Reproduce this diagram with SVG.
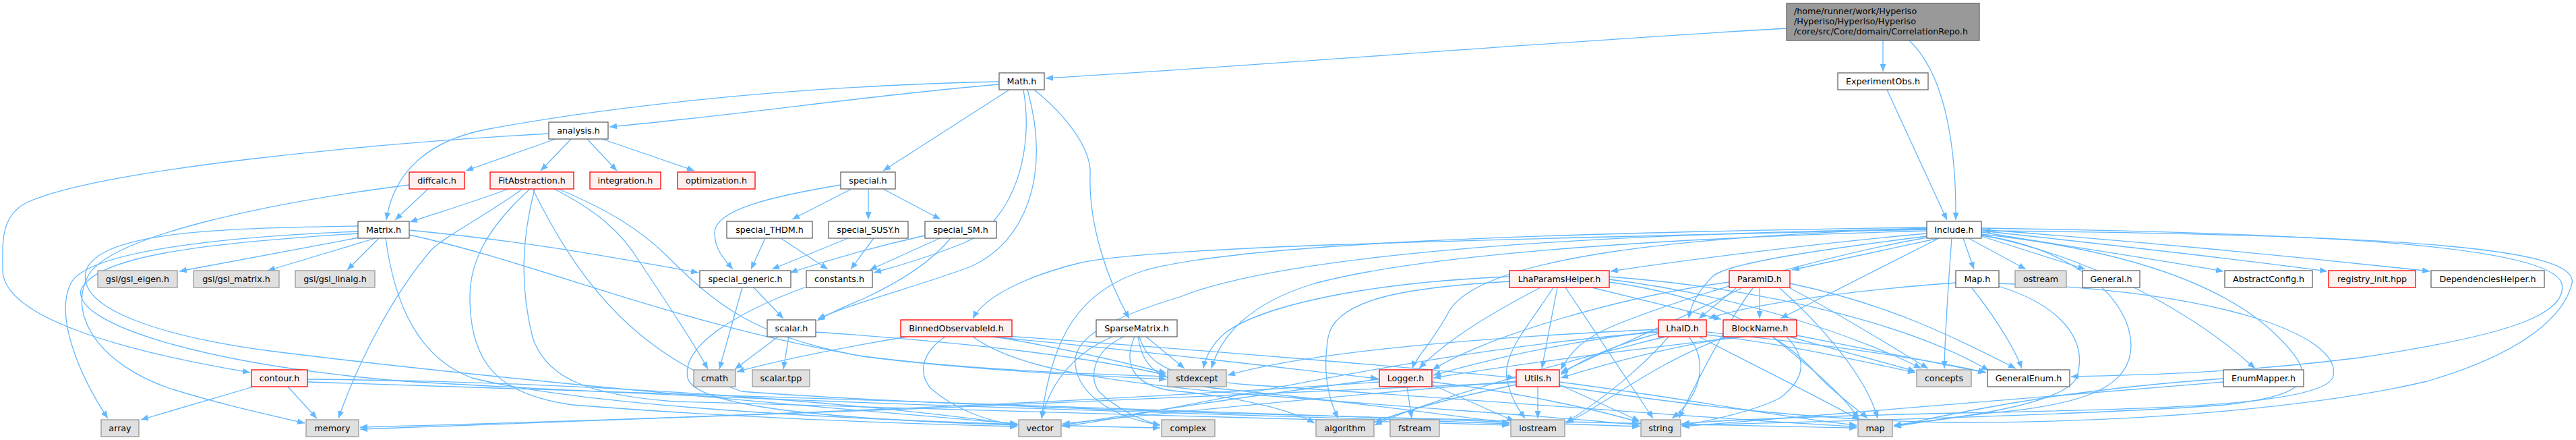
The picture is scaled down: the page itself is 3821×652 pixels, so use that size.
<svg xmlns="http://www.w3.org/2000/svg" width="3821" height="652" viewBox="0 0 3821 652">
<style>
.n{fill:#ffffff;stroke:#666666;stroke-width:1.3}
.r{fill:#fff0f0;stroke:#ff0000;stroke-width:1.3}
.e{fill:#e0e0e0;stroke:#999999;stroke-width:1.3}
.top{fill:#999999;stroke:#666666;stroke-width:1.3}
text{font-family:"DejaVu Sans","Liberation Sans",sans-serif;font-size:12.7px;fill:#000000}
.m{text-anchor:middle}
#edges path{fill:none;stroke:#63b8ff;stroke-width:1.3;marker-end:url(#ah)}
</style>
<defs>
<marker id="ah" viewBox="0 0 11 9" refX="11" refY="4.5" markerWidth="11" markerHeight="9" markerUnits="userSpaceOnUse" orient="auto"><path d="M0,0L11,4.5L0,9z" fill="#63b8ff"/></marker>
</defs>
<rect x="0" y="0" width="3821" height="652" fill="#ffffff"/>
<g id="edges">
<path d="M2650,42 C2300,62 1900,95 1551,116"/>
<path d="M2793,60 L2793,106"/>
<path d="M2832,60 C2880,105 2902,200 2901,326"/>
<path d="M2799,133 L2888,326"/>
<path d="M1482,125 C1300,140 1100,170 904,188"/>
<path d="M1482,121 C1150,128 880,162 720,192 C640,208 585,250 573,326"/>
<path d="M1497,133 L1310,253"/>
<path d="M1518,133 C1535,230 1500,330 1430,360 C1380,380 1330,395 1296,404"/>
<path d="M1524,133 C1560,260 1520,360 1440,395 C1360,425 1260,450 1213,473"/>
<path d="M1534,133 C1580,170 1620,220 1617,260 C1615,330 1640,410 1675,472"/>
<path d="M814,198 C560,212 150,250 40,300 C0,320 4,360 4,400 C4,470 180,520 371,552"/>
<path d="M824,206 L691,253"/>
<path d="M847,206 L802,253"/>
<path d="M871,206 L915,253"/>
<path d="M893,206 L1030,253"/>
<path d="M635,280 L586,326"/>
<path d="M607,274 C400,300 160,350 130,410 C100,470 150,540 250,575 C330,600 400,615 452,627"/>
<path d="M754,280 C700,300 650,315 608,329"/>
<path d="M775,280 C720,320 660,350 640,370 C580,440 530,540 502,620"/>
<path d="M786,280 C720,340 697,390 697,440 C697,540 740,585 850,600 C1100,620 1350,628 1509,632"/>
<path d="M793,280 C775,350 770,420 790,500 C810,560 870,585 1000,595 C1500,610 2000,620 2239,630"/>
<path d="M822,280 C880,310 920,340 950,390 C990,450 1030,510 1050,547"/>
<path d="M828,280 C900,310 950,340 990,380 C1060,450 1120,500 1280,528 C1450,550 1650,558 1730,562"/>
<path d="M790,280 C850,400 930,520 1100,580 C1500,610 2300,625 2754,634"/>
<path d="M533,352 L266,402"/>
<path d="M557,353 L397,401"/>
<path d="M562,353 L515,400"/>
<path d="M531,343 C350,350 130,370 105,420 C80,470 120,560 160,620"/>
<path d="M531,335 C350,338 150,340 128,400 C110,460 250,500 400,520 C800,570 1300,610 1509,628"/>
<path d="M531,346 C300,360 140,380 120,430 C110,480 300,540 600,565 C1200,600 1900,615 2239,628"/>
<path d="M607,341 C800,360 900,380 1036,404"/>
<path d="M607,348 C800,390 1000,480 1280,528 C1450,550 1650,555 1730,558"/>
<path d="M572,353 C585,450 620,530 700,560 C900,610 1400,628 1721,634"/>
<path d="M376,573 L209,622"/>
<path d="M427,573 L470,620"/>
<path d="M456,562 C900,565 1300,600 1509,629"/>
<path d="M456,566 C1000,580 2000,620 2432,632"/>
<path d="M1263,280 L1175,325"/>
<path d="M1288,280 L1288,325"/>
<path d="M1310,280 L1395,325"/>
<path d="M1247,274 C1150,290 1060,310 1060,345 C1060,370 1075,385 1087,399"/>
<path d="M1135,353 L1114,399"/>
<path d="M1158,353 L1228,399"/>
<path d="M1258,353 L1145,399"/>
<path d="M1296,353 L1262,399"/>
<path d="M1372,349 C1300,365 1230,385 1172,404"/>
<path d="M1394,353 L1290,400"/>
<path d="M1410,353 C1380,390 1330,420 1280,443 C1250,455 1230,465 1212,475"/>
<path d="M1101,426 L1067,547"/>
<path d="M1118,426 L1162,472"/>
<path d="M1196,425 C1100,460 1010,510 1020,560 C1030,600 1200,620 1509,630"/>
<path d="M1154,499 L1090,547"/>
<path d="M1170,499 L1162,547"/>
<path d="M1210,492 C1400,505 1600,525 1730,556"/>
<path d="M1345,499 C1250,515 1150,535 1093,551"/>
<path d="M1476,499 C1600,520 1680,540 1730,553"/>
<path d="M1402,499 C1370,520 1360,550 1380,575 C1420,610 1470,625 1509,630"/>
<path d="M1443,499 C1500,540 1600,560 1800,580 C2100,605 2350,620 2432,630"/>
<path d="M1470,499 C1700,520 1900,545 2044,561"/>
<path d="M1480,497 C1800,520 2100,545 2247,560"/>
<path d="M1700,499 L1757,546"/>
<path d="M1650,499 C1600,520 1560,560 1545,620"/>
<path d="M1667,499 C1620,520 1615,560 1630,580 C1660,610 1700,625 1721,630"/>
<path d="M1683,499 C1665,540 1680,575 1750,580 C1850,590 1920,610 1950,627"/>
<path d="M1688,499 C1695,540 1710,565 1800,575 C2000,595 2150,615 2239,627"/>
<path d="M1690,499 C1700,530 1720,560 1850,570 C2300,600 2600,625 2754,632"/>
<path d="M2285,426 C2220,460 2150,500 2105,546"/>
<path d="M2304,426 C2270,480 2230,520 2235,560 C2240,590 2255,610 2262,620"/>
<path d="M2310,426 L2287,546"/>
<path d="M2322,426 L2452,620"/>
<path d="M2361,426 L2553,473"/>
<path d="M2239,417 C2100,425 1980,440 1970,500 C1960,560 1975,600 1985,620"/>
<path d="M2239,410 C2000,420 1850,460 1810,500 C1795,515 1788,530 1785,546"/>
<path d="M2387,418 C2550,440 2650,500 2700,560 C2730,590 2760,610 2770,620"/>
<path d="M2387,414 C2600,440 2780,510 2850,546"/>
<path d="M2387,410 C2650,430 2850,490 2950,549"/>
<path d="M2575,427 L2520,472"/>
<path d="M2610,427 L2610,472"/>
<path d="M2565,418 C2400,440 2200,500 2125,548"/>
<path d="M2583,427 C2500,470 2380,520 2315,552"/>
<path d="M2655,427 C2720,460 2800,510 2860,546"/>
<path d="M2655,420 C2800,450 2900,500 2990,546"/>
<path d="M2640,427 C2700,480 2770,560 2785,620"/>
<path d="M2600,427 C2560,480 2520,560 2490,620"/>
<path d="M2460,490 C2300,510 2200,535 2126,556"/>
<path d="M2460,494 C2400,510 2350,530 2315,555"/>
<path d="M2475,499 C2440,540 2380,590 2323,626"/>
<path d="M2505,499 C2530,530 2530,580 2480,620"/>
<path d="M2531,496 C2650,510 2760,535 2841,552"/>
<path d="M2531,492 C2700,510 2850,530 2946,552"/>
<path d="M2520,499 C2600,540 2700,590 2758,622"/>
<path d="M2460,488 C2200,500 1950,520 1821,556"/>
<path d="M2460,492 C2100,520 1800,600 1576,632"/>
<path d="M2470,499 C2300,540 2100,600 2039,630"/>
<path d="M2654,499 L2841,550"/>
<path d="M2660,496 L2945,552"/>
<path d="M2629,499 C2680,540 2730,580 2757,620"/>
<path d="M2588,499 C2400,520 2250,540 2126,560"/>
<path d="M2570,499 C2450,520 2380,540 2315,560"/>
<path d="M2650,499 C2680,530 2680,560 2640,590 C2600,610 2530,625 2495,630"/>
<path d="M2560,499 C2450,540 2380,600 2323,627"/>
<path d="M2087,573 L2094,620"/>
<path d="M2124,570 L2246,624"/>
<path d="M2124,566 C2250,580 2380,610 2432,626"/>
<path d="M2046,562 C1900,580 1700,610 1576,630"/>
<path d="M2046,566 C1700,590 1200,615 534,633"/>
<path d="M2281,573 L2281,620"/>
<path d="M2313,570 L2432,624"/>
<path d="M2249,570 C2150,590 2080,610 2039,626"/>
<path d="M2249,565 C2000,585 1750,610 1576,628"/>
<path d="M2313,566 C2500,590 2650,620 2754,630"/>
<path d="M2249,567 C1800,590 1000,620 534,636"/>
<path d="M2901,419 C2750,430 2600,450 2534,472"/>
<path d="M2925,427 C2960,470 2990,520 2999,546"/>
<path d="M2964,424 C3050,450 3100,500 3080,560 C3060,600 2900,620 2809,630"/>
<path d="M2964,420 C3300,430 3480,500 3460,560 C3440,600 3200,607 2900,612 C2700,617 2550,622 2495,628"/>
<path d="M2858,346 C2700,360 2500,385 2389,402"/>
<path d="M2876,353 L2658,400"/>
<path d="M2858,350 C2700,370 2560,390 2540,410 C2520,430 2508,450 2505,472"/>
<path d="M2876,353 L2641,472"/>
<path d="M2912,353 L2928,399"/>
<path d="M2920,353 L3005,399"/>
<path d="M2939,350 L3093,399"/>
<path d="M2939,344 C3100,370 3200,385 3298,402"/>
<path d="M2939,342 C3150,365 3350,388 3452,402"/>
<path d="M2939,340 C3200,360 3450,385 3604,402"/>
<path d="M2939,348 C3100,380 3250,460 3345,546"/>
<path d="M2895,353 C2890,420 2885,500 2884,546"/>
<path d="M2939,338 C3400,345 3780,360 3800,420 C3810,470 3700,500 3500,530 C3300,555 3150,556 3072,558"/>
<path d="M2313,572 C2500,600 2700,624 2900,626 C3200,626 3450,600 3600,565 C3720,530 3800,480 3815,420 C3825,370 3600,348 2941,342"/>
<path d="M2939,347 C3150,370 3300,420 3380,500 C3440,560 3430,585 3300,600 C3100,615 2700,625 2495,630"/>
<path d="M2939,349 C3060,365 3150,430 3160,500 C3170,570 3100,600 2950,612 C2880,620 2840,628 2809,632"/>
<path d="M2858,340 C2200,355 1700,365 1600,390 C1520,410 1460,440 1443,472"/>
<path d="M2858,338 C2500,350 2200,380 2150,460 C2130,500 2100,530 2095,546"/>
<path d="M2858,352 C2700,380 2500,440 2400,480 C2350,500 2330,520 2315,548"/>
<path d="M2858,337 C2300,345 1850,360 1700,400 C1600,430 1560,500 1545,620"/>
<path d="M2858,339 C2300,348 1900,380 1750,440 C1650,470 1590,500 1595,540 C1600,590 1660,620 1721,630"/>
<path d="M2858,342 C2400,355 2100,380 1950,420 C1850,450 1810,500 1797,546"/>
<path d="M3298,561 C3100,575 2950,600 2809,632"/>
<path d="M3298,566 C3000,590 2700,615 2495,632"/>
</g>
<g id="node-CorrelationRepo"><rect class="top" x="2650" y="5" width="286" height="55"/><text x="2661" y="20.5">/home/runner/work/Hyperiso</text><text x="2661" y="35.5">/Hyperiso/Hyperiso/Hyperiso</text><text x="2661" y="50.5">/core/src/Core/domain/CorrelationRepo.h</text></g>
<g id="node-Math"><rect class="n" x="1482" y="108" width="67" height="25"/><text class="m" x="1515.5" y="125">Math.h</text></g>
<g id="node-ExperimentObs"><rect class="n" x="2726" y="108" width="134" height="25"/><text class="m" x="2793" y="125">ExperimentObs.h</text></g>
<g id="node-analysis"><rect class="n" x="814" y="181" width="88" height="25"/><text class="m" x="858" y="198">analysis.h</text></g>
<g id="node-diffcalc"><rect class="r" x="607" y="255" width="82" height="25"/><text class="m" x="648" y="272">diffcalc.h</text></g>
<g id="node-FitAbstraction"><rect class="r" x="727" y="255" width="124" height="25"/><text class="m" x="789" y="272">FitAbstraction.h</text></g>
<g id="node-integration"><rect class="r" x="875" y="255" width="105" height="25"/><text class="m" x="927.5" y="272">integration.h</text></g>
<g id="node-optimization"><rect class="r" x="1005" y="255" width="115" height="25"/><text class="m" x="1062.5" y="272">optimization.h</text></g>
<g id="node-special"><rect class="n" x="1247" y="255" width="81" height="25"/><text class="m" x="1287.5" y="272">special.h</text></g>
<g id="node-Matrix"><rect class="n" x="531" y="328" width="76" height="25"/><text class="m" x="569" y="345">Matrix.h</text></g>
<g id="node-special_THDM"><rect class="n" x="1078" y="328" width="127" height="25"/><text class="m" x="1141.5" y="345">special_THDM.h</text></g>
<g id="node-special_SUSY"><rect class="n" x="1229" y="328" width="118" height="25"/><text class="m" x="1288" y="345">special_SUSY.h</text></g>
<g id="node-special_SM"><rect class="n" x="1372" y="328" width="106" height="25"/><text class="m" x="1425" y="345">special_SM.h</text></g>
<g id="node-Include"><rect class="n" x="2858" y="328" width="81" height="25"/><text class="m" x="2898.5" y="345">Include.h</text></g>
<g id="node-gsl_eigen"><rect class="e" x="145" y="401" width="118" height="25"/><text class="m" x="204" y="418">gsl/gsl_eigen.h</text></g>
<g id="node-gsl_matrix"><rect class="e" x="287" y="401" width="127" height="25"/><text class="m" x="350.5" y="418">gsl/gsl_matrix.h</text></g>
<g id="node-gsl_linalg"><rect class="e" x="438" y="401" width="118" height="25"/><text class="m" x="497" y="418">gsl/gsl_linalg.h</text></g>
<g id="node-special_generic"><rect class="n" x="1038" y="401" width="135" height="25"/><text class="m" x="1105.5" y="418">special_generic.h</text></g>
<g id="node-constants"><rect class="n" x="1196" y="401" width="98" height="25"/><text class="m" x="1245" y="418">constants.h</text></g>
<g id="node-LhaParamsHelper"><rect class="r" x="2239" y="401" width="148" height="25"/><text class="m" x="2313" y="418">LhaParamsHelper.h</text></g>
<g id="node-ParamID"><rect class="r" x="2565" y="401" width="90" height="25"/><text class="m" x="2610" y="418">ParamID.h</text></g>
<g id="node-Map"><rect class="n" x="2901" y="401" width="64" height="25"/><text class="m" x="2933" y="418">Map.h</text></g>
<g id="node-ostream"><rect class="e" x="2989" y="401" width="76" height="25"/><text class="m" x="3027" y="418">ostream</text></g>
<g id="node-General"><rect class="n" x="3089" y="401" width="85" height="25"/><text class="m" x="3131.5" y="418">General.h</text></g>
<g id="node-AbstractConfig"><rect class="n" x="3300" y="401" width="130" height="25"/><text class="m" x="3365" y="418">AbstractConfig.h</text></g>
<g id="node-registry_init"><rect class="r" x="3454" y="401" width="129" height="25"/><text class="m" x="3518.5" y="418">registry_init.hpp</text></g>
<g id="node-DependenciesHelper"><rect class="n" x="3606" y="401" width="168" height="25"/><text class="m" x="3690" y="418">DependenciesHelper.h</text></g>
<g id="node-scalar"><rect class="n" x="1138" y="474" width="72" height="25"/><text class="m" x="1174" y="491">scalar.h</text></g>
<g id="node-BinnedObservableId"><rect class="r" x="1336" y="474" width="165" height="25"/><text class="m" x="1418.5" y="491">BinnedObservableId.h</text></g>
<g id="node-SparseMatrix"><rect class="n" x="1626" y="474" width="120" height="25"/><text class="m" x="1686" y="491">SparseMatrix.h</text></g>
<g id="node-LhaID"><rect class="r" x="2460" y="474" width="71" height="25"/><text class="m" x="2495.5" y="491">LhaID.h</text></g>
<g id="node-BlockName"><rect class="r" x="2556" y="474" width="109" height="25"/><text class="m" x="2610.5" y="491">BlockName.h</text></g>
<g id="node-contour"><rect class="r" x="373" y="548" width="83" height="25"/><text class="m" x="414.5" y="565">contour.h</text></g>
<g id="node-cmath"><rect class="e" x="1029" y="548" width="62" height="25"/><text class="m" x="1060" y="565">cmath</text></g>
<g id="node-scalar_tpp"><rect class="e" x="1116" y="548" width="85" height="25"/><text class="m" x="1158.5" y="565">scalar.tpp</text></g>
<g id="node-stdexcept"><rect class="e" x="1732" y="548" width="87" height="25"/><text class="m" x="1775.5" y="565">stdexcept</text></g>
<g id="node-Logger"><rect class="r" x="2046" y="548" width="78" height="25"/><text class="m" x="2085" y="565">Logger.h</text></g>
<g id="node-Utils"><rect class="r" x="2249" y="548" width="64" height="25"/><text class="m" x="2281" y="565">Utils.h</text></g>
<g id="node-concepts"><rect class="e" x="2843" y="548" width="81" height="25"/><text class="m" x="2883.5" y="565">concepts</text></g>
<g id="node-GeneralEnum"><rect class="n" x="2948" y="548" width="122" height="25"/><text class="m" x="3009" y="565">GeneralEnum.h</text></g>
<g id="node-EnumMapper"><rect class="n" x="3298" y="548" width="119" height="25"/><text class="m" x="3357.5" y="565">EnumMapper.h</text></g>
<g id="node-array"><rect class="e" x="150" y="622" width="56" height="25"/><text class="m" x="178" y="639">array</text></g>
<g id="node-memory"><rect class="e" x="454" y="622" width="78" height="25"/><text class="m" x="493" y="639">memory</text></g>
<g id="node-vector"><rect class="e" x="1511" y="622" width="63" height="25"/><text class="m" x="1542.5" y="639">vector</text></g>
<g id="node-complex"><rect class="e" x="1723" y="622" width="79" height="25"/><text class="m" x="1762.5" y="639">complex</text></g>
<g id="node-algorithm"><rect class="e" x="1952" y="622" width="86" height="25"/><text class="m" x="1995" y="639">algorithm</text></g>
<g id="node-fstream"><rect class="e" x="2062" y="622" width="73" height="25"/><text class="m" x="2098.5" y="639">fstream</text></g>
<g id="node-iostream"><rect class="e" x="2241" y="622" width="80" height="25"/><text class="m" x="2281" y="639">iostream</text></g>
<g id="node-string"><rect class="e" x="2434" y="622" width="59" height="25"/><text class="m" x="2463.5" y="639">string</text></g>
<g id="node-map"><rect class="e" x="2756" y="622" width="51" height="25"/><text class="m" x="2781.5" y="639">map</text></g>
</svg>
